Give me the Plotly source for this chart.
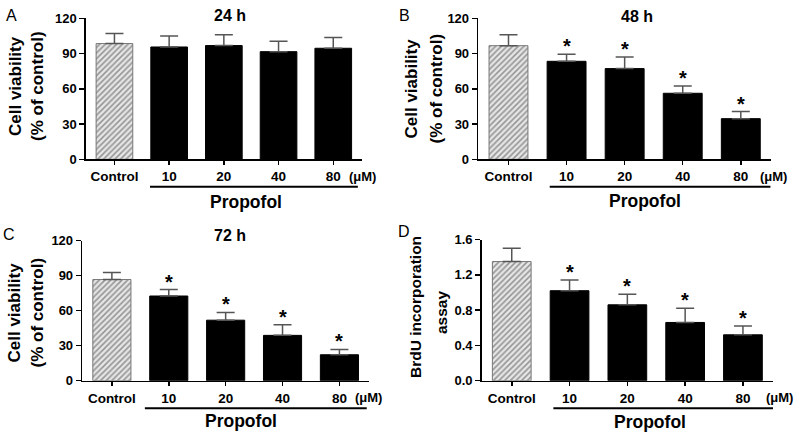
import plotly.graph_objects as go

# ---------------- data ----------------
categories = ["Control", "10", "20", "40", "80"]
panel_letters = ["A", "B", "C", "D"]
panel_titles = ["24 h", "48 h", "72 h", ""]
y_titles = [["Cell viability", "(% of control)"], ["Cell viability", "(% of control)"],
            ["Cell viability", "(% of control)"], ["BrdU incorporation", "assay"]]

mean_24h = [98.5, 95.6, 96.8, 91.6, 94.5]
err_24h = [8.5, 9.4, 9.2, 8.8, 9.1]
sig_24h = ["", "", "", "", ""]

mean_48h = [96.7, 83.4, 77.2, 56.2, 34.6]
err_48h = [9.3, 6.0, 9.8, 6.2, 6.0]
sig_48h = ["", "*", "*", "*", "*"]

mean_72h = [86.6, 72.5, 51.8, 38.8, 22.2]
err_72h = [6.1, 5.5, 6.6, 9.0, 4.6]
sig_72h = ["", "*", "*", "*", "*"]

mean_brdu = [1.35, 1.02, 0.86, 0.66, 0.52]
err_brdu = [0.15, 0.12, 0.12, 0.16, 0.10]
sig_brdu = ["", "*", "*", "*", "*"]

y_ranges = [[0, 120], [0, 120], [0, 120], [0, 1.6]]
y_dticks = [30, 30, 30, 0.4]
y_formats = ["d", "d", "d", ".1f"]
unit_label = "(μM)"
group_label = "Propofol"

means = [mean_24h, mean_48h, mean_72h, mean_brdu]
errs = [err_24h, err_48h, err_72h, err_brdu]
sigs = [sig_24h, sig_48h, sig_72h, sig_brdu]

# ---------------- layout geometry (pixels) ----------------
W, H = 800, 438
geom = [
    dict(x0=86, x1=361.7, yt=18.3, yb=159.3, title=(2.11, 15), letter=(11, 15),
         yt_lines=[(15, 86), (37, 86)], yt_size=17,
         line=(0.65, 4.45), unit=4.26, prop=(2.40, 201.5)),
    dict(x0=478.3, x1=771, yt=18.3, yb=159.3, title=(2.21, 16), letter=(404, 15),
         yt_lines=[(411.5, 89), (436.5, 89)], yt_size=17,
         line=(0.71, 4.51), unit=4.30, prop=(2.35, 201)),
    dict(x0=82.3, x1=369, yt=240.5, yb=380.7, title=(2.08, 235.5), letter=(9, 234),
         yt_lines=[(13.5, 313), (36.5, 313)], yt_size=17,
         line=(0.58, 4.48), unit=4.24, prop=(2.27, 421)),
    dict(x0=481.7, x1=773, yt=239.5, yb=380.7, title=(2.2, 235), letter=(404, 231),
         yt_lines=[(415, 307), (441, 313)], yt_size=15.5,
         line=(0.72, 4.62), unit=4.36, prop=(2.39, 422)),
]

FONT = "Liberation Sans, Arial, Helvetica, sans-serif"
px = lambda x: x / W
py = lambda y: 1 - y / H

fig = go.Figure()
annotations = []
shapes = []
layout_axes = {}

for i in range(4):
    g = geom[i]
    n = "" if i == 0 else str(i + 1)
    xa, ya = "x" + n, "y" + n
    fig.add_trace(go.Bar(
        x=categories, y=means[i], xaxis=xa, yaxis=ya, width=0.67,
        marker=dict(
            color=["#e6e6e6"] + ["black"] * 4,
            line=dict(color=["#777777"] + ["black"] * 4, width=1),
            pattern=dict(shape=["/", "", "", "", ""], fgcolor="#4a4a4a",
                         bgcolor="#e6e6e6", size=4, solidity=0.4),
        ),
        error_y=dict(type="data", symmetric=False, array=errs[i],
                     arrayminus=[0] * 5, color="#555555", thickness=1.5, width=9),
        showlegend=False, hoverinfo="skip",
    ))
    tops = [m + e for m, e in zip(means[i], errs[i])]
    for j, (t, s) in enumerate(zip(tops, sigs[i])):
        if s:
            annotations.append(dict(text=s, xref=xa, yref=ya, x=j, y=t,
                                    xanchor="center", yanchor="bottom", yshift=-5,
                                    showarrow=False,
                                    font=dict(family=FONT, size=20, color="black",
                                              weight="bold")))
    layout_axes["xaxis" + n] = dict(
        domain=[px(g["x0"]), px(g["x1"])], anchor=ya, range=[-0.52, 4.52],
        showline=True, linecolor="black", linewidth=1.6, ticks="outside",
        ticklen=4, tickwidth=1.5, tickcolor="black", showgrid=False, zeroline=False,
        tickfont=dict(family=FONT, size=13.5, color="black", weight="bold"),
        ticklabelstandoff=0, fixedrange=True, automargin=False,
    )
    layout_axes["yaxis" + n] = dict(
        domain=[py(g["yb"]), py(g["yt"])], anchor=xa, range=y_ranges[i],
        dtick=y_dticks[i], tick0=0, tickformat=y_formats[i],
        showline=True, linecolor="black", linewidth=1.6, ticks="outside",
        ticklen=5, tickwidth=1.5, tickcolor="black", showgrid=False, zeroline=False,
        tickfont=dict(family=FONT, size=13, color="black", weight="bold"),
        fixedrange=True, automargin=False,
    )
    # panel letter
    annotations.append(dict(text=panel_letters[i], xref="paper", yref="paper",
                            x=px(g["letter"][0]), y=py(g["letter"][1]),
                            xanchor="center", yanchor="middle", showarrow=False,
                            font=dict(family=FONT, size=16, color="black")))
    # panel title
    if panel_titles[i]:
        annotations.append(dict(text=panel_titles[i], xref=xa, yref="paper",
                                x=g["title"][0], y=py(g["title"][1]),
                                xanchor="center", yanchor="middle", showarrow=False,
                                font=dict(family=FONT, size=16, color="black",
                                          weight="bold")))
    # y-axis title (two rotated lines)
    for txt, (lx, ly) in zip(y_titles[i], g["yt_lines"]):
        annotations.append(dict(text=txt, xref="paper", yref="paper",
                                x=px(lx), y=py(ly),
                                xanchor="center", yanchor="middle", showarrow=False,
                                textangle=-90,
                                font=dict(family=FONT, size=g["yt_size"],
                                          color="black", weight="bold")))
    # unit label
    annotations.append(dict(text=unit_label, xref=xa, yref="paper",
                            x=g["unit"], y=py(g["yb"] + 17), xanchor="left",
                            yanchor="middle", showarrow=False,
                            font=dict(family=FONT, size=13, color="black",
                                      weight="bold")))
    # group label
    annotations.append(dict(text=group_label, xref=xa, yref="paper",
                            x=g["prop"][0], y=py(g["prop"][1]), xanchor="center",
                            yanchor="middle", showarrow=False,
                            font=dict(family=FONT, size=17.5, color="black",
                                      weight="bold")))
    shapes.append(dict(type="line", xref=xa, yref="paper",
                       x0=g["line"][0], x1=g["line"][1],
                       y0=py(g["yb"] + 27.5), y1=py(g["yb"] + 27.5),
                       line=dict(color="black", width=2)))

fig.update_layout(
    width=W, height=H, margin=dict(l=0, r=0, t=0, b=0, autoexpand=False),
    paper_bgcolor="white", plot_bgcolor="white",
    annotations=annotations, shapes=shapes, bargap=0.3,
    **layout_axes,
)

fig.write_html(
    "out.html",
    config={"displayModeBar": False, "staticPlot": True},
    post_script="document.body.style.margin='0';document.body.style.overflow='hidden';",
)
